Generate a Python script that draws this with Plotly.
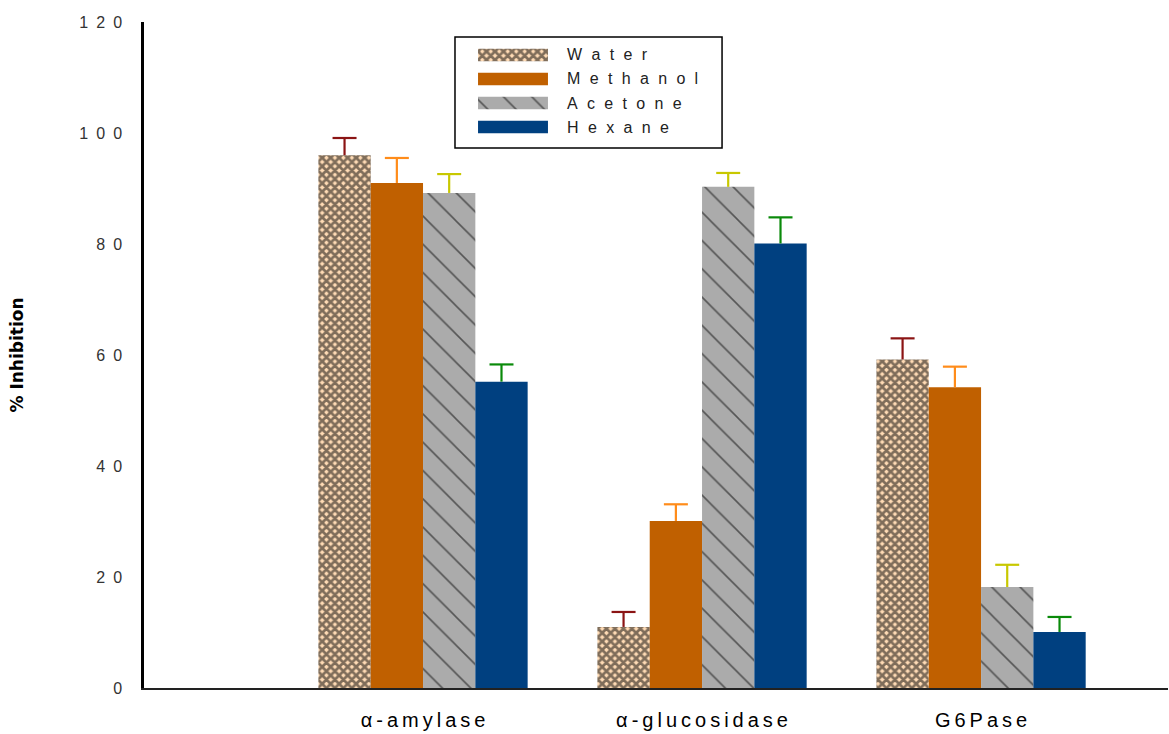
import plotly.graph_objects as go

# Enzyme assays and solvent extracts
enzymes = ["α-amylase", "α-glucosidase", "G6Pase"]
solvents = ["Water", "Methanol", "Acetone", "Hexane"]

# % inhibition per extract (one list per solvent, ordered as enzymes)
water = [96, 11, 59.2]
methanol = [91, 30.1, 54.2]
acetone = [89.2, 90.3, 18.2]
hexane = [55.2, 80.1, 10.1]

# upper error (SD) per extract
water_err = [3.1, 2.7, 3.8]
methanol_err = [4.5, 3.0, 3.7]
acetone_err = [3.4, 2.5, 4.0]
hexane_err = [3.1, 4.7, 2.7]

y_ticks = [0, 20, 40, 60, 80, 100, 120]

values = [water, methanol, acetone, hexane]
errors = [water_err, methanol_err, acetone_err, hexane_err]

fill_colors = ["#FFDBB5", "#C06000", "#ABABAB", "#004080"]
err_colors = ["#8B1414", "#FF8C1A", "#C8C800", "#0A8A0A"]
patterns = [
    dict(shape="x", fgcolor="black", size=6, solidity=0.7),
    dict(shape=""),
    dict(shape="\\", fgcolor="black", size=20, solidity=0.08),
    dict(shape=""),
]


def spaced(text, sep):
    return sep.join(list(text))


FONT = "Liberation Sans, Arial"
x_pos = [1, 2, 3]
BARGAP = 0.25
bar_w = (1 - BARGAP) / len(solvents)
cap_half = 0.043

fig = go.Figure()
for k, (name, vals, fc, pat) in enumerate(zip(solvents, values,
                                              fill_colors, patterns)):
    fig.add_trace(go.Bar(
        x=x_pos, y=vals, name=name,
        marker=dict(color=fc, line=dict(width=0), pattern=pat),
        showlegend=False,
    ))

# Upward-only error bars (stem + top cap), placed at each grouped bar centre
for k, (vals, errs, ec) in enumerate(zip(values, errors, err_colors)):
    xs, ys = [], []
    for xp, v, e in zip(x_pos, vals, errs):
        xc = xp + (k - (len(solvents) - 1) / 2) * bar_w
        xs += [xc, xc, None, xc - cap_half, xc + cap_half, None]
        ys += [v, v + e, None, v + e, v + e, None]
    fig.add_trace(go.Scatter(
        x=xs, y=ys, mode="lines", line=dict(color=ec, width=2.2),
        showlegend=False, hoverinfo="skip",
    ))

# Legend swatches drawn as small horizontal bars on a helper axis pair
for i, (fc, pat) in enumerate(zip(fill_colors, patterns)):
    fig.add_trace(go.Bar(
        x=[1], y=[i], base=[0], orientation="h", width=0.52,
        marker=dict(color=fc, line=dict(width=0), pattern=pat),
        xaxis="x2", yaxis="y2", showlegend=False, hoverinfo="skip",
    ))

LX0, LX1 = 0.3037, 0.5645
LY0, LY1 = 0.8108, 0.9775
SW_X0, SW_X1 = 0.3262, 0.3945
SW_Y0, SW_Y1 = 0.8243, 0.9685

fig.add_shape(type="rect", xref="paper", yref="paper",
              x0=LX0, x1=LX1, y0=LY0, y1=LY1,
              line=dict(color="black", width=1.5), fillcolor="rgba(0,0,0,0)")

for i, name in enumerate(solvents):
    yc = SW_Y1 - (i + 0.5) * (SW_Y1 - SW_Y0) / 4
    fig.add_annotation(x=0.4111, y=yc, xref="paper", yref="paper",
                       text=spaced(name, "\u2002\u200a"), showarrow=False,
                       xanchor="left", yanchor="middle",
                       font=dict(family=FONT, size=16, color="#222222"))

fig.update_layout(
    width=1169, height=734,
    margin=dict(l=144, r=1, t=22, b=46),
    plot_bgcolor="white", paper_bgcolor="white",
    barmode="group", bargap=BARGAP, bargroupgap=0,
    font=dict(family=FONT, color="#222222"),
    xaxis=dict(
        range=[0, 3.67], tickvals=x_pos,
        ticktext=[spaced(e, "\u2009") for e in enzymes],
        showgrid=False, zeroline=False, showline=True,
        linecolor="#222222", linewidth=2, ticks="",
        tickfont=dict(family=FONT, size=20, color="black"),
        ticklabelstandoff=13,
    ),
    yaxis=dict(
        range=[0, 120], tickvals=y_ticks,
        ticktext=[spaced(str(t), "\u2002") for t in y_ticks],
        showgrid=False, zeroline=False, showline=True,
        linecolor="black", linewidth=2.5, ticks="",
        tickfont=dict(family=FONT, size=16, color="#333333"),
        ticklabelstandoff=16,
        title=dict(text="<b>% Inhibition</b>", standoff=52,
                   font=dict(family="DejaVu Sans", size=17, color="black")),
    ),
    xaxis2=dict(domain=[SW_X0, SW_X1], range=[0, 1], visible=False,
                anchor="y2", fixedrange=True),
    yaxis2=dict(domain=[SW_Y0, SW_Y1], range=[3.5, -0.5], visible=False,
                anchor="x2", fixedrange=True),
)

fig.write_html("out.html")
